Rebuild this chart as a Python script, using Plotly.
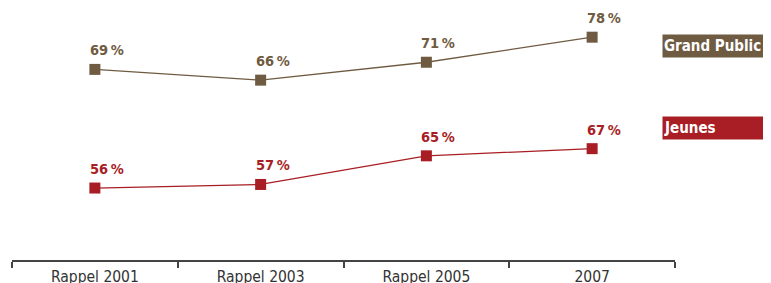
import plotly.graph_objects as go

categories = ["Rappel 2001", "Rappel 2003", "Rappel 2005", "2007"]
grand_public = [69, 66, 71, 78]
jeunes = [56, 57, 65, 67]
series_names = ["Grand Public", "Jeunes"]

BROWN = "#6F5B41"
RED = "#A81E24"
FONT = "DejaVu Sans Condensed, Liberation Sans Narrow, sans-serif"

fig = go.Figure()
fig.add_trace(go.Scatter(
    x=categories, y=grand_public, mode="lines+markers", yaxis="y",
    line=dict(color=BROWN, width=1.3),
    marker=dict(symbol="square", size=11, color=BROWN),
    hoverinfo="skip", showlegend=False))
fig.add_trace(go.Scatter(
    x=categories, y=jeunes, mode="lines+markers", yaxis="y2",
    line=dict(color=RED, width=1.3),
    marker=dict(symbol="square", size=11, color=RED),
    hoverinfo="skip", showlegend=False))

annotations = []
for vals, yref, col in [(grand_public, "y", BROWN), (jeunes, "y2", RED)]:
    for i, v in enumerate(vals):
        annotations.append(dict(
            x=i, y=v, xref="x", yref=yref, text=f"<b>{v}\u2009%</b>",
            showarrow=False, xanchor="left", yanchor="bottom",
            xshift=-7, yshift=9,
            font=dict(family=FONT, size=14.5, color=col)))

for name, ypos, col in [(series_names[0], 0.849, BROWN), (series_names[1], 0.524, RED)]:
    annotations.append(dict(
        x=0.980, y=ypos, xref="paper", yref="paper", text=f"<b>{name}</b>",
        showarrow=False, xanchor="left", yanchor="middle", align="left",
        bgcolor=col, width=106, height=20, borderpad=1,
        font=dict(family=FONT, size=15, color="white")))

fig.update_layout(
    width=763, height=275,
    margin=dict(l=4, r=96, t=0, b=23, autoexpand=False),
    paper_bgcolor="white", plot_bgcolor="white",
    annotations=annotations,
    xaxis=dict(
        type="category", tickson="boundaries", ticks="outside",
        ticklen=6, tickwidth=1.5, tickcolor="#444", automargin=False,
        showline=True, linecolor="#444", linewidth=1.5,
        showgrid=False, zeroline=False, range=[-0.5, 3.5],
        ticklabelstandoff=2,
        tickfont=dict(family=FONT, size=15.5, color="#333")),
    yaxis=dict(visible=False, range=[15.76, 86.15], fixedrange=True,
               automargin=False),
    yaxis2=dict(visible=False, range=[35.90, 106.29], overlaying="y",
                fixedrange=True, automargin=False),
)

fig.write_html("out.html")
